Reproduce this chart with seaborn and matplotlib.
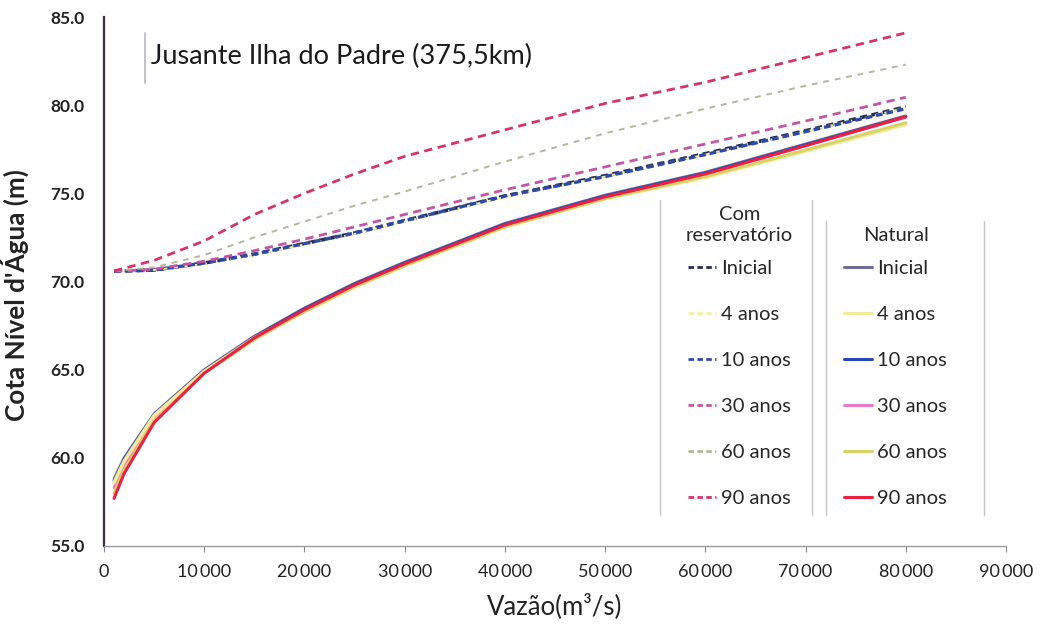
import numpy as np
import pandas as pd
import matplotlib
matplotlib.use("Agg")
import matplotlib.pyplot as plt
from matplotlib.lines import Line2D
import seaborn as sns

# Discharge (m3/s) and water level (m) at Jusante Ilha do Padre
vazao = [1000, 2000, 5000, 10000, 15000, 20000, 25000, 30000, 40000, 50000, 60000, 70000, 80000]

# With reservoir
res_inicial = [70.6, 70.6, 70.65, 71.05, 71.55, 72.15, 72.75, 73.45, 74.85, 76.0, 77.25, 78.55, 79.9]
res_4anos   = [70.6, 70.6, 70.65, 71.0, 71.5, 72.1, 72.7, 73.4, 74.8, 75.95, 77.2, 78.5, 79.85]
res_10anos  = [70.6, 70.6, 70.65, 71.05, 71.55, 72.15, 72.75, 73.45, 74.85, 75.95, 77.2, 78.5, 79.8]
res_30anos  = [70.6, 70.6, 70.7, 71.15, 71.75, 72.4, 73.1, 73.8, 75.2, 76.5, 77.8, 79.1, 80.45]
res_60anos  = [70.6, 70.65, 70.8, 71.5, 72.5, 73.4, 74.3, 75.1, 76.8, 78.4, 79.8, 81.1, 82.3]
res_90anos  = [70.6, 70.75, 71.2, 72.3, 73.8, 75.0, 76.1, 77.1, 78.6, 80.1, 81.3, 82.7, 84.1]

# Natural condition
nat_inicial = [58.8, 60.0, 62.5, 65.0, 66.9, 68.5, 69.9, 71.1, 73.3, 74.9, 76.2, 77.8, 79.4]
nat_4anos   = [58.6, 59.8, 62.4, 64.9, 66.8, 68.3, 69.7, 70.9, 73.1, 74.7, 75.9, 77.4, 78.9]
nat_10anos  = [58.7, 59.9, 62.45, 64.95, 66.85, 68.45, 69.85, 71.05, 73.25, 74.85, 76.15, 77.75, 79.35]
nat_30anos  = [58.3, 59.5, 62.3, 64.9, 66.8, 68.4, 69.8, 71.0, 73.2, 74.8, 76.1, 77.7, 79.3]
nat_60anos  = [58.0, 59.3, 62.1, 64.8, 66.7, 68.3, 69.7, 70.9, 73.1, 74.7, 75.95, 77.45, 79.0]
nat_90anos  = [57.7, 59.1, 62.0, 64.8, 66.8, 68.4, 69.8, 71.0, 73.2, 74.8, 76.1, 77.7, 79.35]

cenarios = ["Inicial", "4 anos", "10 anos", "30 anos", "60 anos", "90 anos"]
com_res = [res_inicial, res_4anos, res_10anos, res_30anos, res_60anos, res_90anos]
natural = [nat_inicial, nat_4anos, nat_10anos, nat_30anos, nat_60anos, nat_90anos]

x_ticks = [0, 10000, 20000, 30000, 40000, 50000, 60000, 70000, 80000, 90000]
y_ticks = [55.0, 60.0, 65.0, 70.0, 75.0, 80.0, 85.0]

rows = []
for nome, serie in zip(cenarios, com_res):
    for q, z in zip(vazao, serie):
        rows.append({"Vazão": q, "Cota": z, "Cenário": nome, "Tipo": "Com reservatório"})
for nome, serie in zip(cenarios, natural):
    for q, z in zip(vazao, serie):
        rows.append({"Vazão": q, "Cota": z, "Cenário": nome, "Tipo": "Natural"})
df = pd.DataFrame(rows)

res_colors = {"Inicial": "#26304f", "4 anos": "#f3efa2", "10 anos": "#2e4aa6",
              "30 anos": "#c455a6", "60 anos": "#b4b79a", "90 anos": "#d6336c"}
res_lw = {"Inicial": 2.6, "4 anos": 1.4, "10 anos": 2.4, "30 anos": 2.0, "60 anos": 1.4, "90 anos": 2.0}
res_dash = {"Inicial": (2, 1.2), "4 anos": (3, 2), "10 anos": (2, 1.2), "30 anos": (3, 2),
            "60 anos": (3, 3), "90 anos": (3, 2)}
nat_colors = {"Inicial": "#6c6f93", "4 anos": "#f4ea9c", "10 anos": "#2946b8",
              "30 anos": "#e57cc8", "60 anos": "#d8d266", "90 anos": "#ec2043"}
nat_lw = {"Inicial": 2.0, "4 anos": 2.6, "10 anos": 2.2, "30 anos": 2.0, "60 anos": 2.2, "90 anos": 2.2}

sns.set_theme(style="white")
font = ["Lato", "DejaVu Sans"]
plt.rcParams["font.family"] = font

fig = plt.figure(figsize=(10.43, 6.28), dpi=100)
ax = fig.add_axes([104 / 1043, 1 - 546 / 628, (1006 - 104) / 1043, (546 - 17) / 628])

for nome in cenarios:
    sub = df[(df["Tipo"] == "Com reservatório") & (df["Cenário"] == nome)]
    line = sns.lineplot(data=sub, x="Vazão", y="Cota", ax=ax, color=res_colors[nome],
                        lw=res_lw[nome], legend=False, zorder=3).lines[-1]
    line.set_dashes(res_dash[nome])

for nome in ["Inicial", "30 anos", "10 anos", "4 anos", "60 anos", "90 anos"]:
    sub = df[(df["Tipo"] == "Natural") & (df["Cenário"] == nome)]
    sns.lineplot(data=sub, x="Vazão", y="Cota", ax=ax, color=nat_colors[nome],
                 lw=nat_lw[nome], legend=False, zorder=4)

ax.set_xlim(0, 90000)
ax.set_ylim(55, 85)
ax.set_xticks(x_ticks)
ax.set_yticks(y_ticks)
ax.set_xticklabels([f"{v:,}".replace(",", "\u2009") for v in x_ticks], fontsize=13,
                   family=font, color="#222222")
ax.set_yticklabels([f"{v:.1f}" for v in y_ticks], fontsize=12.5, family=font, color="#222222",
                   fontweight="bold")
ax.tick_params(axis="x", direction="out", length=4, width=0.8, color="#888888", pad=9, bottom=True)
ax.tick_params(axis="y", length=0, pad=14)
ax.grid(False)
for s in ["top", "right"]:
    ax.spines[s].set_visible(False)
ax.spines["left"].set_color("#3d2c4d")
ax.spines["left"].set_linewidth(1.6)
ax.spines["bottom"].set_color("#9a9a9a")
ax.spines["bottom"].set_linewidth(1.0)

ax.set_xlabel("Vazão(m³/s)", fontsize=18.5, family=font, color="#222222", labelpad=9)
ax.set_ylabel("Cota Nível d'Água (m)", fontsize=18.8, family=font, fontweight="bold",
              color="#222222")
ax.yaxis.set_label_coords(-0.083, 0.474)

# Title box
ax.text(0.052, 0.925, "Jusante Ilha do Padre (375,5km)", transform=ax.transAxes,
        fontsize=19.5, family=font, color="#1a1a1a", va="center", ha="left", zorder=5)
ax.plot([0.045, 0.045], [0.875, 0.97], transform=ax.transAxes, color="#b8b8c4", lw=1.2,
        clip_on=False)

# Legends
res_handles = [Line2D([], [], color=res_colors[n], lw=2.0, dashes=(2, 1.2)) for n in cenarios]
nat_handles = [Line2D([], [], color=nat_colors[n], lw=2.2) for n in cenarios]
common = dict(title_fontsize=14.5, frameon=False, handlelength=1.4,
              handletextpad=0.25, labelspacing=1.43, borderpad=0.2, alignment="center",
              prop={"family": font, "size": 14.5})
leg1 = fig.legend(res_handles, cenarios, title="Com\nreservatório", loc="lower left",
                  bbox_to_anchor=(672 / 1043, 1 - 521 / 628), **common)
leg1.get_title().set_multialignment("center")
leg1.get_title().set_linespacing(1.3)
leg1.get_title().set_family(font)
leg2 = fig.legend(nat_handles, cenarios, title="Natural", loc="lower left",
                  bbox_to_anchor=(830 / 1043, 1 - 521 / 628), **common)
leg2.get_title().set_family(font)
for leg in (leg1, leg2):
    leg._legend_box.sep = 11.4

fig.canvas.draw()
inv = fig.transFigure.inverted()
for leg, lpad, rpad in [(leg1, 22, 15), (leg2, 14, 33)]:
    bb = leg.get_window_extent()
    y0, y1 = bb.y0 - 4, bb.y1 + 2
    for xx in (bb.x0 - lpad, bb.x1 + rpad):
        (fx0, fy0) = inv.transform((xx, y0))
        (fx1, fy1) = inv.transform((xx, y1))
        fig.add_artist(Line2D([fx0, fx1], [fy0, fy1], color="#c4c4c4", lw=1.0))

fig.savefig("out.png", dpi=100, facecolor="white")
